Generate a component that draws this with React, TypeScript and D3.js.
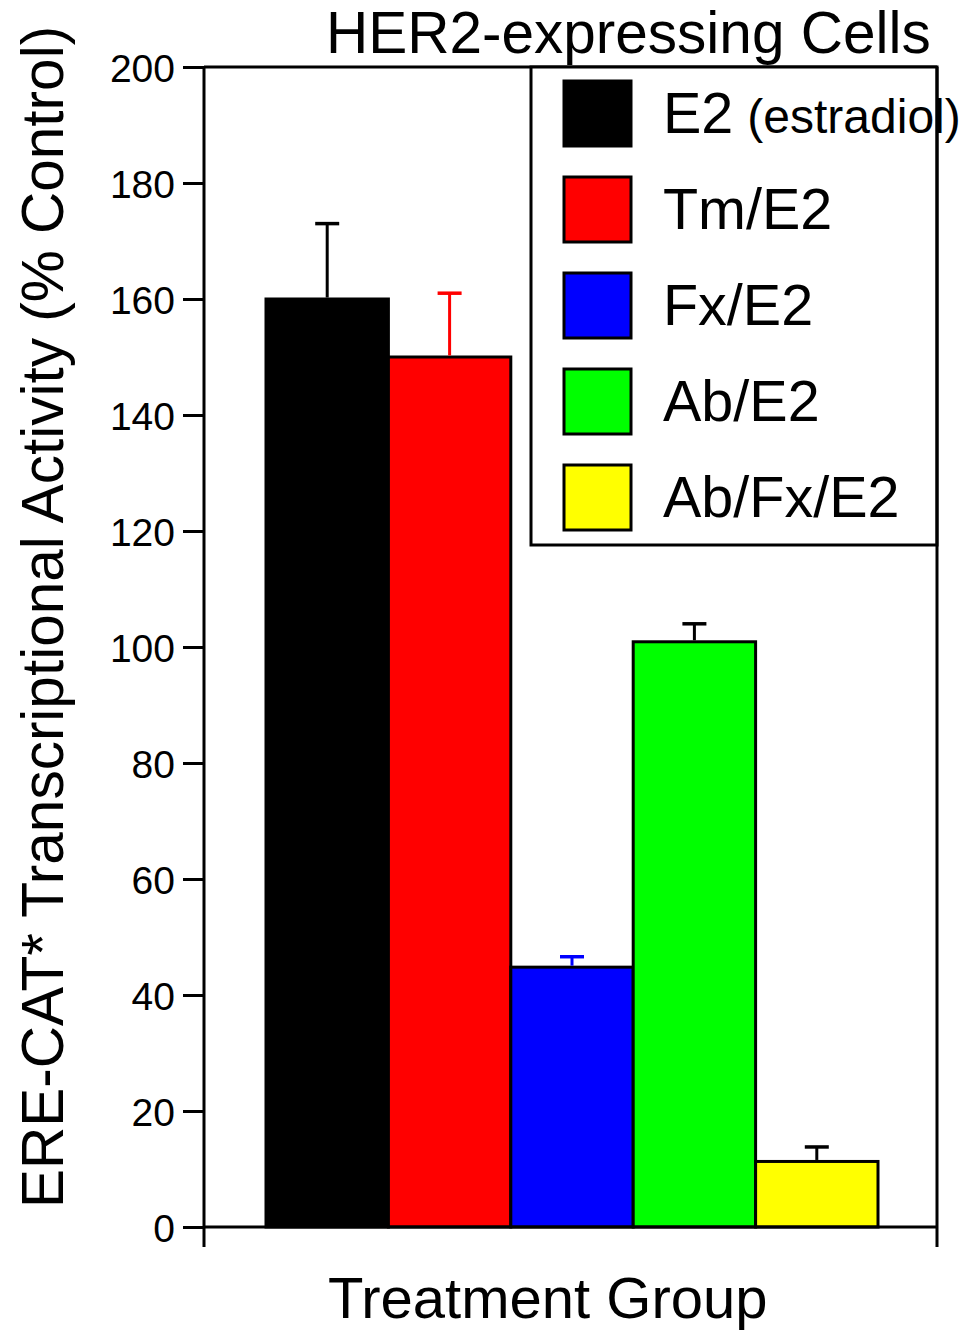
import React, { useEffect, useRef } from 'react';
import * as d3 from 'd3';

const groups = ['E2', 'Tm/E2', 'Fx/E2', 'Ab/E2', 'Ab/Fx/E2'];
const values = [160, 150, 44.8, 100.9, 11.3];
const errors = [13, 11, 1.8, 3.1, 2.5];
const fills = ['#000000', '#ff0000', '#0000ff', '#00ff00', '#ffff00'];
const errColors = ['#000000', '#ff0000', '#0000ff', '#000000', '#000000'];
const yTicks = [0, 20, 40, 60, 80, 100, 120, 140, 160, 180, 200];

const FONT = '"Liberation Sans", Arial, Helvetica, sans-serif';

const App = () => {
  const ref = useRef<SVGSVGElement>(null);

  useEffect(() => {
    document.body.style.margin = '0';
    const svg = d3.select(ref.current);
    svg.selectAll('*').remove();

    const width = 967;
    const height = 1332;
    const margin = { top: 67, right: 30, bottom: 105, left: 204 };
    const plotRight = width - margin.right;
    const plotBottom = height - margin.bottom;

    const y = d3.scaleLinear().domain([0, 200]).range([plotBottom, margin.top]);
    const x = d3.scaleBand().domain(groups).range([266, 878]).padding(0);

    // bars
    svg.append('g')
      .selectAll('rect')
      .data(groups)
      .enter().append('rect')
      .attr('x', d => x(d)!)
      .attr('y', (d, i) => y(values[i]))
      .attr('width', x.bandwidth())
      .attr('height', (d, i) => y(0) - y(values[i]))
      .attr('fill', (d, i) => fills[i])
      .attr('stroke', '#000')
      .attr('stroke-width', 3);

    // error bars (upper only)
    const err = svg.append('g');
    groups.forEach((g, i) => {
      const cx = x(g)! + x.bandwidth() / 2;
      err.append('line')
        .attr('x1', cx).attr('x2', cx)
        .attr('y1', y(values[i]) - 1.5).attr('y2', y(values[i] + errors[i]))
        .attr('stroke', errColors[i]).attr('stroke-width', 3);
      err.append('line')
        .attr('x1', cx - 12).attr('x2', cx + 12)
        .attr('y1', y(values[i] + errors[i])).attr('y2', y(values[i] + errors[i]))
        .attr('stroke', errColors[i]).attr('stroke-width', 3.5);
    });

    // frame
    const frame = svg.append('g').attr('stroke', '#000').attr('stroke-width', 3).attr('fill', 'none');
    frame.append('line').attr('x1', margin.left).attr('x2', margin.left).attr('y1', margin.top).attr('y2', plotBottom + 20);
    frame.append('line').attr('x1', margin.left).attr('x2', plotRight).attr('y1', margin.top).attr('y2', margin.top);
    frame.append('line').attr('x1', margin.left).attr('x2', plotRight).attr('y1', plotBottom).attr('y2', plotBottom);

    // y axis
    const yAxis = svg.append('g')
      .attr('transform', `translate(${margin.left},0)`)
      .call(d3.axisLeft(y).tickValues(yTicks).tickSize(21).tickPadding(8));
    yAxis.select('.domain').remove();
    yAxis.selectAll('line').attr('stroke', '#000').attr('stroke-width', 3);
    yAxis.selectAll('text')
      .attr('font-family', FONT)
      .attr('font-size', 39)
      .attr('fill', '#000')
      .attr('dy', '0.36em');

    // title
    svg.append('text')
      .attr('x', 326).attr('y', 53)
      .attr('font-family', FONT).attr('font-size', 58.5)
      .text('HER2-expressing Cells');

    // axis labels
    svg.append('text')
      .attr('x', 328).attr('y', 1318)
      .attr('font-family', FONT).attr('font-size', 58)
      .text('Treatment Group');

    svg.append('text')
      .attr('transform', 'translate(63,617) rotate(-90)')
      .attr('text-anchor', 'middle')
      .attr('font-family', FONT).attr('font-size', 58.5)
      .text('ERE-CAT* Transcriptional Activity (% Control)');

    // legend
    const legend = svg.append('g');
    legend.append('rect')
      .attr('x', 531).attr('y', margin.top)
      .attr('width', plotRight - 531).attr('height', 545 - margin.top)
      .attr('fill', '#fff').attr('stroke', '#000').attr('stroke-width', 3);
    groups.forEach((g, i) => {
      const row = legend.append('g').attr('transform', `translate(0,${i * 96})`);
      row.append('rect')
        .attr('x', 564).attr('y', 81)
        .attr('width', 67).attr('height', 65)
        .attr('fill', fills[i]).attr('stroke', '#000').attr('stroke-width', 3);
      const t = row.append('text')
        .attr('x', 663).attr('y', 133)
        .attr('font-family', FONT).attr('font-size', 57.5);
      t.append('tspan').text(g);
      if (i === 0) {
        t.append('tspan').attr('dx', 14).attr('font-size', 48).text('(estradiol)');
      }
    });
    // right frame line drawn over the legend text, as in the original
    svg.append('line')
      .attr('x1', plotRight).attr('x2', plotRight)
      .attr('y1', margin.top).attr('y2', plotBottom + 20)
      .attr('stroke', '#000').attr('stroke-width', 3);
  }, []);

  return <svg ref={ref} width={967} height={1332} style={{ display: 'block' }} />;
};

export default App;
